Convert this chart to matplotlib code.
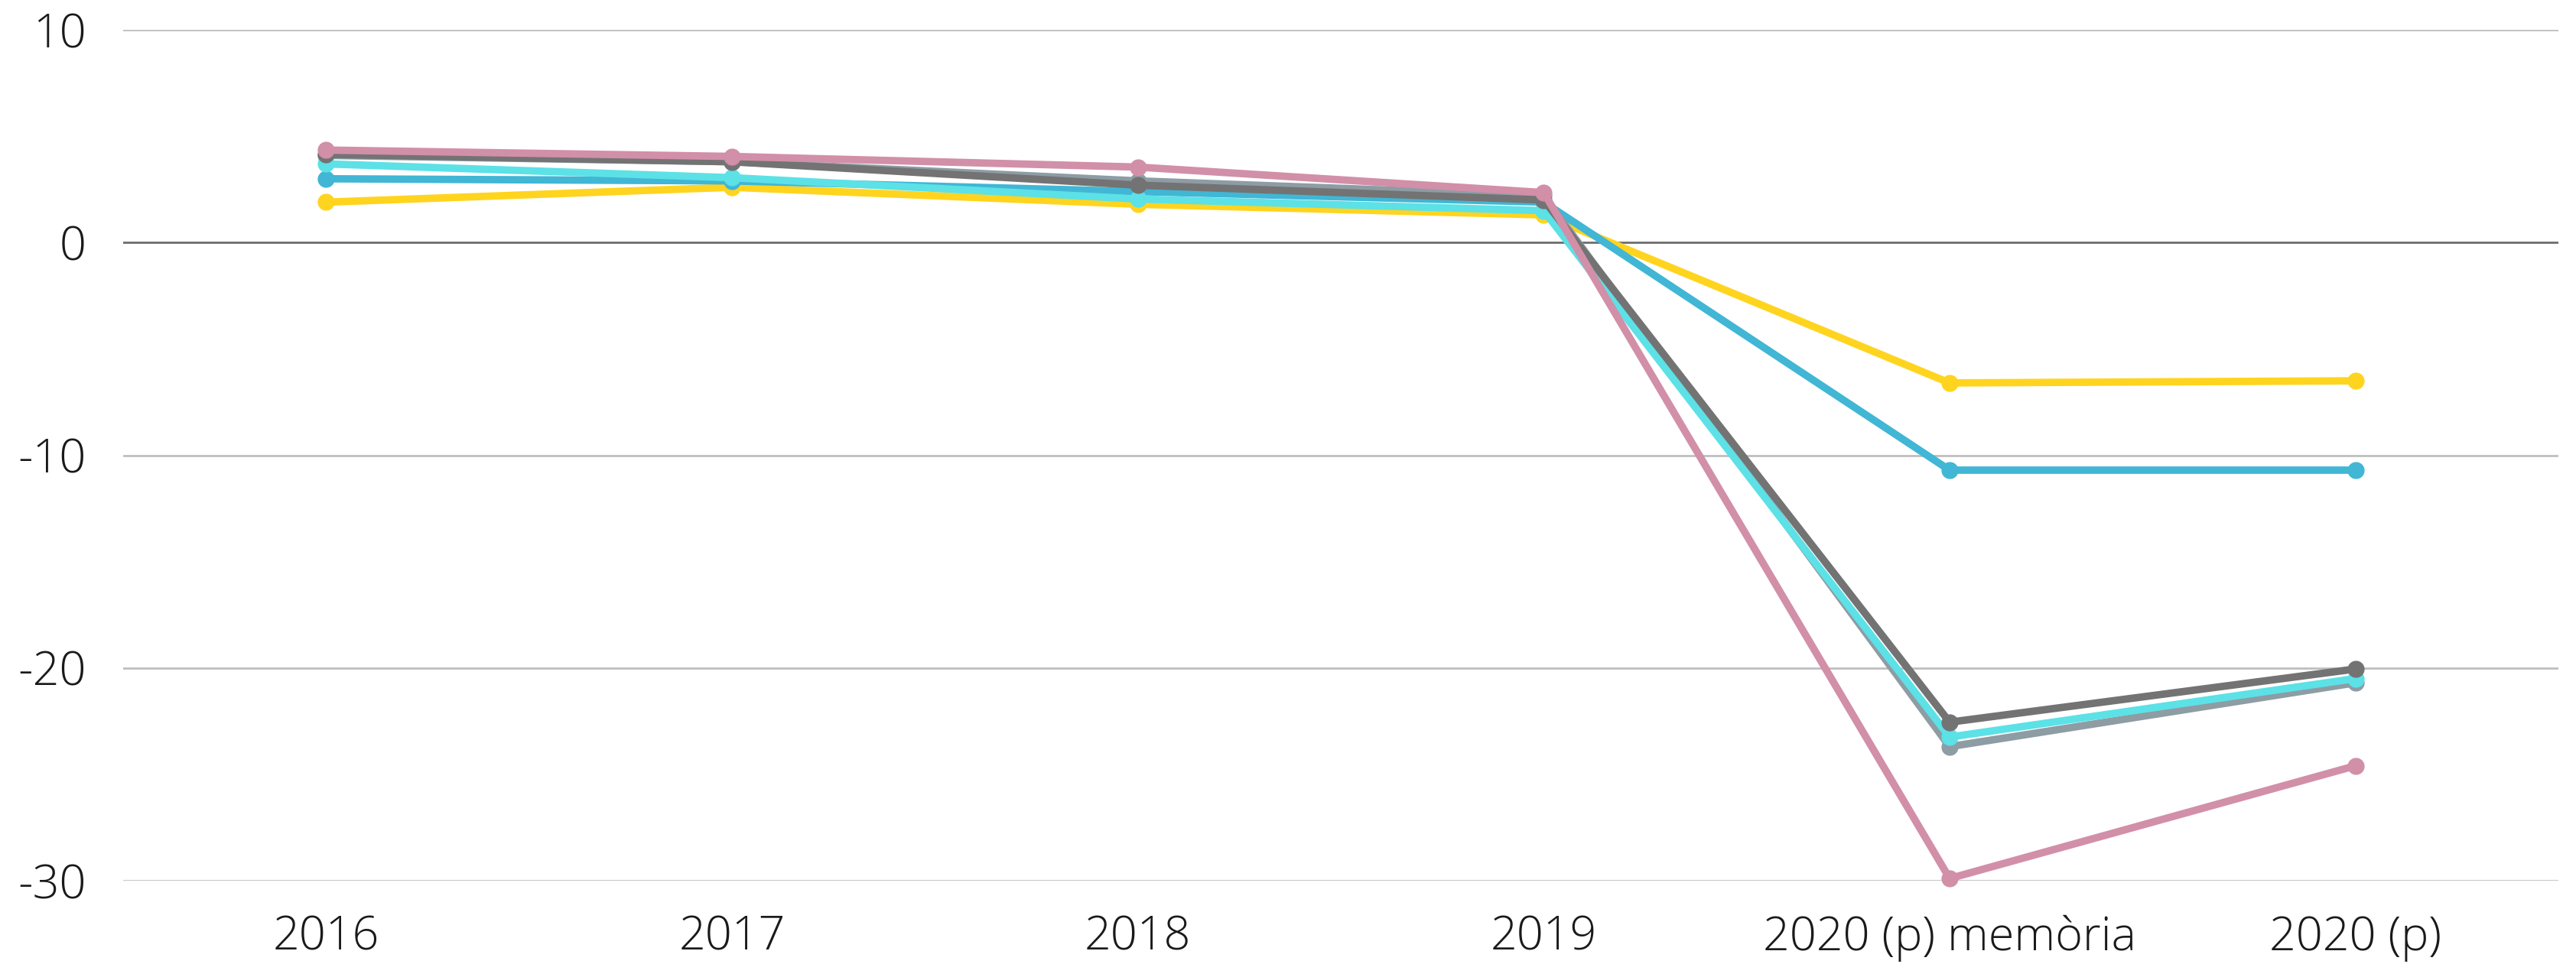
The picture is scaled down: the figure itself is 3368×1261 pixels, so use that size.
import matplotlib.pyplot as plt

plt.rcParams['font.family'] = ['Open Sans', 'DejaVu Sans']
plt.rcParams['axes.unicode_minus'] = False

categories = ['2016', '2017', '2018', '2019', '2020 (p) memòria', '2020 (p)']

# values (bottom to top drawing order)
yellow = [1.9, 2.6, 1.8, 1.3, -6.6, -6.5]
blue = [3.0, 2.9, 2.4, 1.9, -10.7, -10.7]
light_grey = [4.1, 3.8, 2.9, 2.2, -23.7, -20.7]
cyan = [3.7, 3.05, 2.05, 1.5, -23.25, -20.5]
dark_grey = [4.15, 3.8, 2.7, 2.0, -22.55, -20.05]
pink = [4.35, 4.05, 3.55, 2.35, -29.9, -24.6]

series = [
    (yellow, '#FFD41F'),
    (blue, '#41B6D5'),
    (light_grey, '#8E9CA4'),
    (cyan, '#5CE1E6'),
    (dark_grey, '#737373'),
    (pink, '#D28FA8'),
]

fig = plt.figure(figsize=(33.68, 12.61), dpi=100)
ax = fig.add_axes([0.0478, 0.0865, 0.9454, 0.8825])

x = list(range(len(categories)))
for ys, c in series:
    ax.plot(x, ys, color=c, linewidth=7, marker='o', markersize=15,
            solid_joinstyle='round', clip_on=False, zorder=3)

ax.set_xlim(-0.5, len(categories) - 0.5)
ax.set_ylim(-30, 10)
ax.set_yticks([10, 0, -10, -20, -30])
ax.set_xticks(x)
ax.set_xticklabels(categories)

for v in [10, -10, -20, -30]:
    ax.axhline(v, color='#BFBFBF', linewidth=2, zorder=1)
ax.axhline(0, color='#6D6D6D', linewidth=2, zorder=1)

for s in ax.spines.values():
    s.set_visible(False)
ax.tick_params(axis='both', length=0, labelsize=44, colors='#1a1a1a')
ax.tick_params(axis='y', pad=35)
ax.tick_params(axis='x', pad=32)
for lab in ax.get_xticklabels() + ax.get_yticklabels():
    lab.set_fontweight('light')

fig.savefig('out.png', dpi=100, facecolor='white')
